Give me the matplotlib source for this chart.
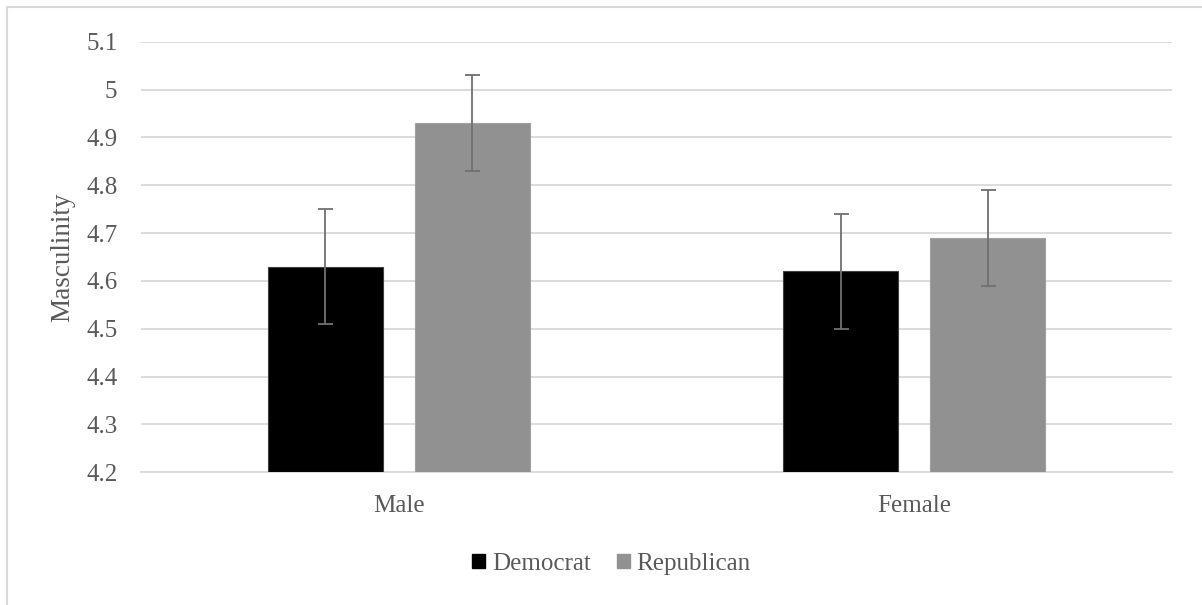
import matplotlib
matplotlib.use("Agg")
import matplotlib.pyplot as plt
import matplotlib.patches as mpatches
import numpy as np

categories = ["Male", "Female"]
series = ["Democrat", "Republican"]
democrat = [4.63, 4.62]
republican = [4.93, 4.69]
democrat_err = [0.12, 0.12]
republican_err = [0.10, 0.10]
yticks = [4.2, 4.3, 4.4, 4.5, 4.6, 4.7, 4.8, 4.9, 5.0, 5.1]
ytick_labels = ["4.2", "4.3", "4.4", "4.5", "4.6", "4.7", "4.8", "4.9", "5", "5.1"]

plt.rcParams['font.family'] = ['Liberation Serif', 'DejaVu Serif']
text_color = "#595959"

W, H = 1202, 605
fig = plt.figure(figsize=(W / 100, H / 100), dpi=100)
ax = fig.add_axes([141 / W, 1 - 472.3 / H, (1172 - 141) / W, (472.3 - 41.7) / H])

x = np.arange(len(categories))
bw = 0.223
off = 0.1423
colors = ["#000000", "#919191"]
edges = ["#404040", "#a0a0a0"]
for i, (vals, errs) in enumerate([(democrat, democrat_err), (republican, republican_err)]):
    pos = x + (-off if i == 0 else off)
    ax.bar(pos, np.array(vals) - 4.2, bottom=4.2, width=bw, color=colors[i],
           edgecolor=edges[i], linewidth=0.8, label=series[i], zorder=3)
    ax.errorbar(pos, vals, yerr=errs, fmt="none", ecolor="#707070", elinewidth=1.3,
                capsize=5.4, capthick=1.3, zorder=4)

ax.set_xlim(-0.5, 1.5)
ax.set_ylim(4.2, 5.1)
ax.set_yticks(yticks)
ax.set_yticklabels(ytick_labels)
ax.set_xticks(x)
ax.set_xticklabels(categories)
ax.yaxis.grid(True, color="#d9d9d9", linewidth=1.3, zorder=0)
ax.set_axisbelow(True)
for s in ["top", "right", "left"]:
    ax.spines[s].set_visible(False)
ax.spines["bottom"].set_color("#d9d9d9")
ax.spines["bottom"].set_linewidth(1.3)
ax.tick_params(axis="both", length=0, labelsize=18, labelcolor=text_color)
ax.tick_params(axis="y", pad=17)
ax.tick_params(axis="x", pad=16)
ax.set_ylabel("Masculinity", fontsize=19.5, color=text_color)
ax.yaxis.set_label_coords((75 - 141) / 1031, 0.5)

handles = [mpatches.Patch(color=colors[0]), mpatches.Patch(color=colors[1])]
leg = fig.legend(handles, series, loc="center", bbox_to_anchor=(611.5 / W, 1 - 564 / H),
                 ncol=2, frameon=False, fontsize=18, handlelength=0.52, handleheight=0.52,
                 handletextpad=0.27, columnspacing=1.05)
for t in leg.get_texts():
    t.set_color(text_color)

border = mpatches.Rectangle((7 / W, -0.1), 1.2, (1 - 7 / H) + 0.1, transform=fig.transFigure,
                            fill=False, edgecolor="#d9d9d9", linewidth=1.5, clip_on=False)
fig.patches.append(border)

fig.savefig("out.png", dpi=100)
